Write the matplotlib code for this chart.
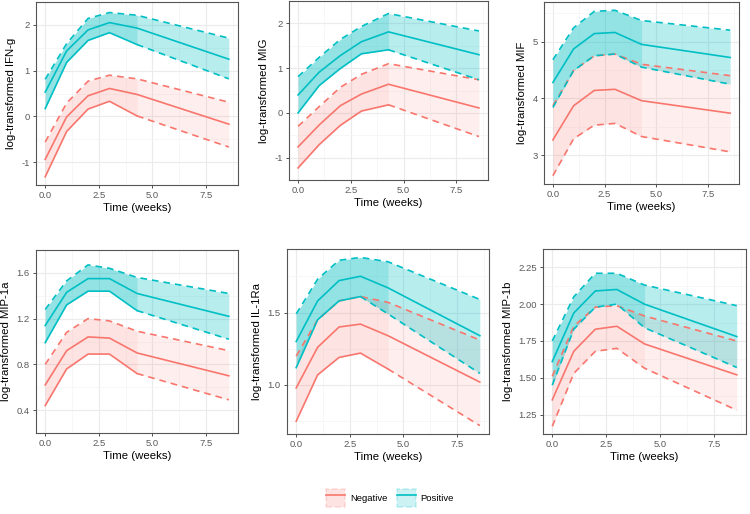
import numpy as np
import matplotlib.pyplot as plt
from matplotlib.patches import Patch
from matplotlib.lines import Line2D

plt.rcParams['font.family'] = ['Liberation Sans', 'DejaVu Sans']

# sampling times in weeks (0, 7, 14, 21, 30, 60 days)
weeks = [0, 1, 2, 3, 30 / 7, 60 / 7]

# IFN-g
ifng_neg_mean = [-0.94, -0.01, 0.45, 0.61, 0.48, -0.17]
ifng_neg_low = [-1.32, -0.33, 0.16, 0.33, 0.01, -0.67]
ifng_neg_high = [-0.56, 0.29, 0.77, 0.90, 0.82, 0.31]
ifng_pos_mean = [0.53, 1.43, 1.89, 2.05, 1.93, 1.25]
ifng_pos_low = [0.17, 1.18, 1.66, 1.83, 1.57, 0.82]
ifng_pos_high = [0.81, 1.59, 2.14, 2.27, 2.21, 1.71]

# MIG
mig_neg_mean = [-0.76, -0.27, 0.16, 0.42, 0.64, 0.11]
mig_neg_low = [-1.23, -0.71, -0.28, 0.04, 0.18, -0.53]
mig_neg_high = [-0.30, 0.14, 0.57, 0.86, 1.10, 0.74]
mig_pos_mean = [0.40, 0.91, 1.28, 1.59, 1.81, 1.30]
mig_pos_low = [0.00, 0.61, 0.99, 1.32, 1.41, 0.74]
mig_pos_high = [0.81, 1.24, 1.64, 1.93, 2.22, 1.83]

# MIF
mif_neg_mean = [3.27, 3.87, 4.14, 4.16, 3.96, 3.74]
mif_neg_low = [2.64, 3.29, 3.53, 3.56, 3.33, 3.06]
mif_neg_high = [3.87, 4.49, 4.75, 4.78, 4.60, 4.40]
mif_pos_mean = [4.28, 4.87, 5.14, 5.16, 4.95, 4.72]
mif_pos_low = [3.84, 4.49, 4.75, 4.78, 4.55, 4.25]
mif_pos_high = [4.68, 5.24, 5.53, 5.55, 5.37, 5.20]

# MIP-1a
mip1a_neg_mean = [0.62, 0.92, 1.04, 1.03, 0.90, 0.70]
mip1a_neg_low = [0.44, 0.76, 0.89, 0.89, 0.72, 0.49]
mip1a_neg_high = [0.80, 1.08, 1.20, 1.18, 1.09, 0.92]
mip1a_pos_mean = [1.14, 1.43, 1.55, 1.55, 1.42, 1.22]
mip1a_pos_low = [0.99, 1.32, 1.44, 1.44, 1.27, 1.02]
mip1a_pos_high = [1.28, 1.53, 1.67, 1.64, 1.56, 1.42]

# IL-1Ra
il1ra_neg_mean = [0.98, 1.26, 1.40, 1.42, 1.34, 1.02]
il1ra_neg_low = [0.75, 1.07, 1.19, 1.22, 1.11, 0.72]
il1ra_neg_high = [1.20, 1.45, 1.58, 1.61, 1.57, 1.31]
il1ra_pos_mean = [1.30, 1.58, 1.72, 1.75, 1.67, 1.34]
il1ra_pos_low = [1.12, 1.45, 1.58, 1.61, 1.49, 1.08]
il1ra_pos_high = [1.49, 1.73, 1.86, 1.88, 1.85, 1.59]

# MIP-1b
mip1b_neg_mean = [1.35, 1.68, 1.83, 1.85, 1.73, 1.52]
mip1b_neg_low = [1.17, 1.53, 1.68, 1.70, 1.565, 1.28]
mip1b_neg_high = [1.51, 1.85, 1.98, 1.99, 1.92, 1.75]
mip1b_pos_mean = [1.61, 1.94, 2.09, 2.10, 2.00, 1.78]
mip1b_pos_low = [1.45, 1.83, 1.98, 2.00, 1.84, 1.57]
mip1b_pos_high = [1.75, 2.05, 2.21, 2.21, 2.13, 1.99]

x_ticks = [0, 2.5, 5, 7.5]
x_tick_labels = ['0.0', '2.5', '5.0', '7.5']

RED = '#F8766D'
TEAL = '#00BFC4'

W, H = 750, 514
fig = plt.figure(figsize=(W / 100, H / 100), dpi=100)


def px_axes(left, right, top, bottom):
    return fig.add_axes([left / W, 1 - bottom / H, (right - left) / W, (bottom - top) / H])


def draw_group(ax, mean, low, high, color, alpha, solid_to):
    x = np.array(weeks)
    mean, low, high = np.array(mean), np.array(low), np.array(high)
    ax.fill_between(x, low, high, color=color, alpha=alpha, lw=0)
    # darker band over the first weeks
    ax.fill_between(x[:5], low[:5], high[:5], color=color, alpha=alpha * 0.7, lw=0)
    ax.plot(x, mean, color=color, lw=1.2)
    ax.plot(x, high, color=color, lw=1.2, dashes=(4, 3))
    if solid_to > 0:
        ax.plot(x[:solid_to + 1], low[:solid_to + 1], color=color, lw=1.2)
        ax.plot(x[solid_to:], low[solid_to:], color=color, lw=1.2, dashes=(4, 3))
    else:
        ax.plot(x, low, color=color, lw=1.2, dashes=(4, 3))


panels = [
    ((36, 238, 2, 185), 'IFN-g', [-1, 0, 1, 2], ['-1', '0', '1', '2'],
     (ifng_neg_mean, ifng_neg_low, ifng_neg_high), (ifng_pos_mean, ifng_pos_low, ifng_pos_high), (4, 4)),
    ((289, 488, 1, 180), 'MIG', [-1, 0, 1, 2], ['-1', '0', '1', '2'],
     (mig_neg_mean, mig_neg_low, mig_neg_high), (mig_pos_mean, mig_pos_low, mig_pos_high), (4, 4)),
    ((544, 739, 2, 184), 'MIF', [3, 4, 5], ['3', '4', '5'],
     (mif_neg_mean, mif_neg_low, mif_neg_high), (mif_pos_mean, mif_pos_low, mif_pos_high), (0, 0)),
    ((36, 238, 250, 433), 'MIP-1a', [0.4, 0.8, 1.2, 1.6], ['0.4', '0.8', '1.2', '1.6'],
     (mip1a_neg_mean, mip1a_neg_low, mip1a_neg_high), (mip1a_pos_mean, mip1a_pos_low, mip1a_pos_high), (4, 4)),
    ((287, 489, 249, 434), 'IL-1Ra', [1.0, 1.5], ['1.0', '1.5'],
     (il1ra_neg_mean, il1ra_neg_low, il1ra_neg_high), (il1ra_pos_mean, il1ra_pos_low, il1ra_pos_high), (4, 3)),
    ((543, 746, 249, 434), 'MIP-1b', [1.25, 1.5, 1.75, 2.0, 2.25], ['1.25', '1.50', '1.75', '2.00', '2.25'],
     (mip1b_neg_mean, mip1b_neg_low, mip1b_neg_high), (mip1b_pos_mean, mip1b_pos_low, mip1b_pos_high), (0, 0)),
]

for box, name, yt, ytl, neg, pos, solid in panels:
    ax = px_axes(*box)
    draw_group(ax, *neg, RED, 0.12, solid[0])
    draw_group(ax, *pos, TEAL, 0.28, solid[1])
    ax.set_xticks(x_ticks)
    ax.set_xticklabels(x_tick_labels)
    ax.set_yticks(yt)
    ax.set_yticklabels(ytl)
    step = yt[1] - yt[0]
    ax.set_xticks([-1.25, 1.25, 3.75, 6.25, 8.75], minor=True)
    ax.set_yticks([t - step / 2 for t in yt] + [yt[-1] + step / 2], minor=True)
    ax.set_xlim(-0.43, 9.0)
    ax.grid(which='major', color='#EBEBEB', lw=0.8)
    ax.grid(which='minor', color='#F4F4F4', lw=0.5)
    ax.set_axisbelow(True)
    ax.tick_params(which='major', length=2.5, width=0.6, color='#333333',
                   labelsize=6.8, labelcolor='#5A5A5A', pad=2)
    ax.tick_params(which='minor', length=0)
    for s in ax.spines.values():
        s.set_color('#555555')
        s.set_linewidth(0.8)
    ax.set_xlabel('Time (weeks)', fontsize=8.2, labelpad=2)
    ax.set_ylabel('log-transformed ' + name, fontsize=8.2, labelpad=4)

handles = [
    (Patch(facecolor=RED, alpha=0.2, edgecolor=RED, linestyle='--', lw=1.2),
     Line2D([], [], color=RED, lw=1.2)),
    (Patch(facecolor=TEAL, alpha=0.2, edgecolor=TEAL, linestyle='--', lw=1.2),
     Line2D([], [], color=TEAL, lw=1.2)),
]
fig.legend(handles, ['Negative', 'Positive'], loc='center', bbox_to_anchor=(390 / W, 1 - 498 / H),
           ncol=2, frameon=False, fontsize=6.8, handlelength=2.0, handleheight=2.6,
           columnspacing=1.0, handletextpad=0.5)

fig.savefig('out.png', dpi=100)
